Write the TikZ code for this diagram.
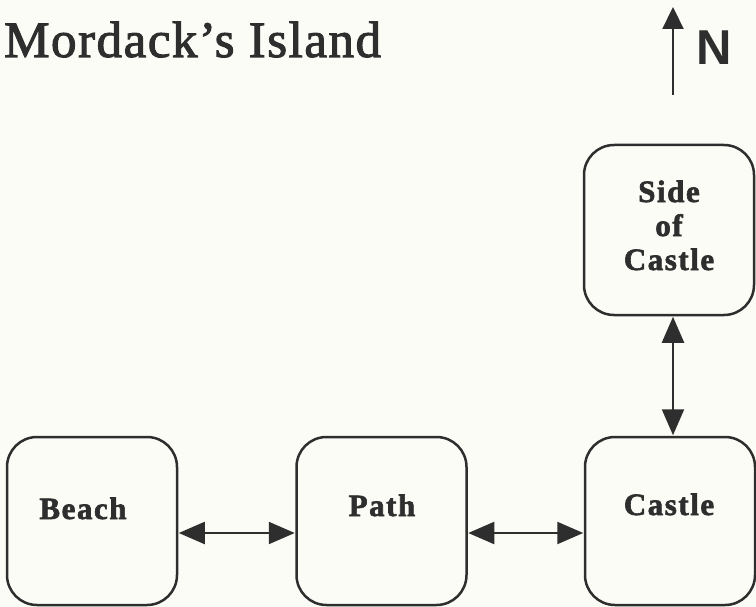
\documentclass[tikz,border=0pt]{standalone}
\usepackage{fontspec}
\setmainfont{Liberation Serif}
\newfontfamily\titlefont[FakeBold=2, LetterSpace=3]{Liberation Serif}
\newfontfamily\labelfont[LetterSpace=5, FakeBold=2]{Liberation Serif}
\newfontfamily\compassfont{Liberation Sans}
\usetikzlibrary{arrows.meta}
\definecolor{ink}{HTML}{2E2E2E}
\definecolor{paper}{HTML}{FCFCF6}
\begin{document}
\begin{tikzpicture}[x=1pt,y=-1pt,
  room/.style={draw=ink, line width=2.5pt, rounded corners=30pt,
    minimum width=170pt, minimum height=168pt, inner sep=0pt},
  roomname/.style={text=ink, font=\labelfont\bfseries\fontsize{31}{34}\selectfont,
    align=center, inner sep=0pt},
  passage/.style={draw=ink, line width=2.2pt,
    {Triangle[length=26pt,width=22pt]}-{Triangle[length=26pt,width=22pt]},
    shorten <=0.5pt, shorten >=0.5pt}]
  % page
  \fill[paper] (0,0) rectangle (756,607);
  \useasboundingbox (0,0) rectangle (756,607);

  % title
  \node[anchor=base west, inner sep=0pt, text=ink,
        font=\titlefont\fontsize{51}{60}\selectfont] (title) at (4,57) {Mordack’s Island};

  % compass
  \coordinate (nbase) at (673,95);
  \coordinate (ntip) at (673,7);
  \draw[draw=ink, line width=2.2pt, -{Triangle[length=22pt,width=21pt]}] (nbase) -- (ntip);
  \node[text=ink, inner sep=0pt, font=\compassfont\bfseries\fontsize{49}{49}\selectfont]
       (north) at (714,48) {N};

  % rooms
  \node[room] (beach)  at (92,521)  {};
  \node[room] (path)   at (381.5,521) {};
  \node[room] (castle) at (670,521) {};
  \node[room, minimum height=170pt] (side) at (669,230) {};

  \node[roomname, anchor=base] (beachname)  at (83,519)  {Beach};
  \node[roomname, anchor=base] (pathname)   at (382,516) {Path};
  \node[roomname, anchor=base] (castlename) at (669,515) {Castle};
  \node[roomname, anchor=base] (sidename)   at (669,270) {Side\\of\\Castle};

  % passages
  \draw[passage] ([yshift=-12pt]beach.east) -- ([yshift=-12pt]path.west);
  \draw[passage] ([yshift=-12pt]path.east) -- ([yshift=-12pt]castle.west);
  \draw[passage] ([xshift=4pt]side.south) -- ([xshift=4pt]side.south |- castle.north);
\end{tikzpicture}
\end{document}
